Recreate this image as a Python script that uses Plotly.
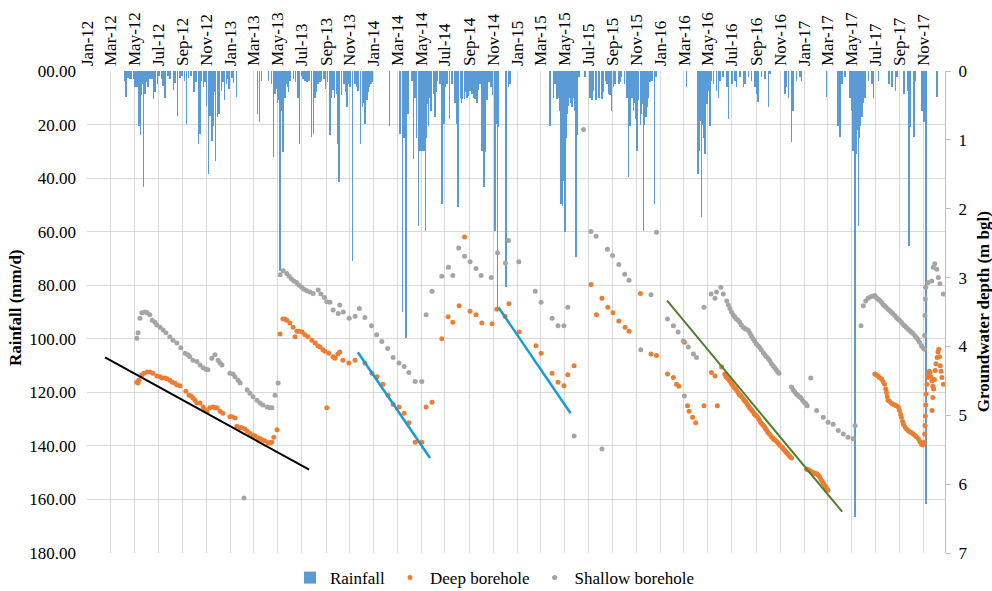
import pandas as pd
import plotly.graph_objects as go

START = pd.Timestamp("2012-01-01")

# ---- Rainfall (days since 2012-01-01, mm/d) ----
rain_day = [
    95, 100, 104, 110, 113, 118, 122, 127, 131, 133, 136, 139, 141, 144, 148, 150, 155, 158, 160, 165,
    169, 173, 180, 183, 190, 194, 199, 207, 211, 220, 224, 231, 237, 242, 248, 254, 258, 265, 273, 278,
    284, 288, 292, 297, 301, 305, 309, 313, 318, 320, 322, 325, 328, 332, 334, 336, 338, 343, 346, 350,
    356, 359, 362, 369, 373, 381,
    435, 439, 445, 462, 470, 475, 479, 483, 485, 487, 491, 492, 496, 497, 499, 502, 504, 509, 511, 513,
    517, 526, 531, 537, 541, 547, 550, 555, 560, 566, 572, 577, 581, 585, 589, 593, 598, 604, 608, 613,
    619, 623, 627, 630, 636, 640, 642, 649, 655, 659, 662, 667, 670, 677, 683, 688, 691, 697, 702, 705,
    708, 713, 716, 718, 723, 727,
    771, 798, 804, 808, 813, 818, 828, 832, 836, 840, 845, 849, 851, 853, 858, 860, 862, 864, 866, 870,
    874, 877, 883, 886, 889, 892, 900, 904, 909, 912, 917, 923, 930, 938, 943, 945, 951, 954, 957, 962,
    966, 968, 972, 976, 981, 986, 989, 994, 997, 1001, 1006, 1011, 1015, 1019, 1024, 1029, 1033, 1039,
    1043, 1046, 1049, 1068, 1074, 1078,
    1179, 1189, 1193, 1197, 1202, 1204, 1206, 1208, 1212, 1214, 1215, 1218, 1220, 1223, 1227, 1229,
    1231, 1233, 1236, 1240, 1242, 1246, 1248, 1253, 1269, 1282, 1287, 1291, 1297, 1304, 1312, 1316,
    1321, 1325, 1329, 1333, 1336, 1342, 1345, 1355, 1358, 1362, 1369, 1374, 1376, 1380, 1384, 1388,
    1392, 1396, 1399, 1401, 1405, 1410, 1412, 1414, 1418, 1420, 1422, 1424, 1427, 1431, 1435, 1440,
    1446, 1450,
    1528, 1557, 1560, 1562, 1566, 1568, 1570, 1572, 1574, 1579, 1583, 1587, 1591, 1596, 1604, 1609,
    1613, 1621, 1630, 1634, 1643, 1651, 1655, 1664, 1672, 1676, 1685, 1693, 1702, 1706, 1710, 1719,
    1727, 1736, 1740, 1778, 1782, 1787, 1795, 1799, 1808, 1816, 1821,
    1884, 1914, 1918, 1923, 1931, 1944, 1948, 1950, 1952, 1955, 1957, 1961, 1963, 1965, 1967, 1970,
    1974, 1977, 1982, 1991, 2000, 2004, 2017, 2043, 2051, 2060, 2064, 2081, 2090, 2094, 2098, 2107,
    2111, 2128, 2132, 2137, 2166,
]
rain_mm = [
    3.6, 9.8, 2.5, 3, 3, 3, 6, 6, 6, 20.4, 24, 9, 5, 43.2, 8.6, 4, 6, 2, 3, 3,
    10.5, 8, 5, 2, 3, 5.5, 10, 2, 3, 7, 4.3, 16.7, 2.5, 2, 3.6, 19.8, 2.5, 2, 8, 4,
    27.3, 23.5, 3.6, 6, 4, 13, 38.5, 16.7, 26, 10, 20.4, 8, 33.5, 17.3, 9, 16, 5, 7.3, 4, 11,
    5, 3, 6.7, 2.5, 4.3, 9.8,
    16, 19.2, 3.6, 3.6, 5, 32.2, 8.6, 6.7, 12, 11, 58.4, 74.6, 6, 15, 30.4, 9, 10, 5, 6, 8,
    3.6, 3, 4, 10, 27.3, 1.7, 3, 3.6, 4, 3.6, 24.8, 23.5, 10, 8, 5, 4, 3.6, 3, 6.7, 4,
    24, 10, 7, 10, 8.6, 27.3, 41.6, 9, 5, 8, 13.6, 5, 6, 70.9, 5, 6, 7.3, 27.3, 13.6, 12,
    19.8, 11, 8, 6, 5, 4,
    20.4, 23.5, 90, 25, 99.7, 16, 3.6, 32.9, 10, 25, 57.8, 30, 28, 29.8, 29.8, 30, 59.7, 25, 12.3, 20.4,
    10, 15, 8.6, 17.3, 8, 3.6, 5, 49.7, 19.8, 6, 5, 18, 5, 12, 19.8, 50.9, 10, 12, 10.5, 10.5,
    8, 10, 9.2, 7.3, 8.6, 10, 10.5, 12, 7, 5, 30, 43.5, 30.4, 11, 4, 6, 9, 59.7,
    19.8, 89, 21, 80.6, 6, 5,
    20.4, 10, 5, 10.5, 10, 15, 33.5, 49.7, 50.3, 30, 41, 60.3, 25, 16, 13, 10,
    8, 12, 13.6, 10, 15, 69.6, 24, 2.4, 2.4, 10, 11, 7.3, 11, 10, 10.5, 8,
    3.6, 5, 8.6, 9, 14.8, 6, 5, 5, 4, 2.4, 5, 6, 10, 39.7, 20.4, 10,
    15, 12, 18, 29.8, 11, 20, 16, 12.3, 59.7, 20, 15, 17, 13.6, 10, 4, 3.6,
    49.7, 2.4,
    6, 38.5, 30, 18.6, 54.7, 20, 16, 25, 31, 12.3, 7.3, 20.4, 3.6, 5, 7.3, 10,
    3.6, 2.4, 6, 18, 5, 3.6, 6, 2.4, 6, 5, 2.4, 3.6, 6, 8.6, 11.7, 2.4,
    3, 13.6, 1.2, 8.6, 6, 10, 26.6, 14.8, 3.6, 2.4, 3.6,
    9.8, 20.4, 24.8, 5, 2.4, 10, 14.8, 20, 29.8, 44.7, 166.7, 31, 22, 57.8, 25, 20.4,
    17.3, 12, 10, 3.6, 5, 10, 3.6, 5, 6, 7.3, 2.4, 8.6, 7.3, 65.3, 21, 24.8,
    3.6, 14.8, 19.2, 161.8, 9.8,
]

# ---- Deep borehole (days since 2012-01-01, groundwater depth m bgl) ----
deep_day = [
    127, 130, 132, 140, 145, 153, 160, 168, 178, 186, 191, 199, 204, 211, 217, 224, 229, 237, 252, 260,
    265, 270, 275, 280, 288, 296, 301, 306, 313, 321, 326, 331, 339, 346, 364, 369, 377, 382, 390, 395,
    402, 408, 415, 423, 428, 436, 441, 448, 453, 461, 466, 471, 476, 484,
    492, 499, 504, 509, 517, 525, 530, 535, 540, 548, 555, 563, 573, 581, 588, 594, 601, 606, 611, 616,
    627, 632, 639, 644, 652, 667, 683, 708, 726, 739, 754, 767, 780, 795, 808, 820, 836, 853, 864, 879,
    904, 920, 932, 948, 962, 976, 991, 1006, 1032, 1044, 1065, 1075, 1101, 1144, 1157, 1185, 1200, 1215,
    1225, 1241,
    1284, 1298, 1312, 1327, 1340, 1355, 1371, 1381, 1410, 1437, 1451,
    1479, 1494, 1502, 1508, 1522, 1530, 1534, 1543, 1551, 1572, 1591, 1600, 1606, 1617,
    1625, 1628, 1631, 1634, 1637, 1640, 1643, 1646, 1649, 1652, 1655, 1659, 1662, 1665, 1668, 1672,
    1675, 1678, 1681, 1685, 1688, 1691, 1694, 1697, 1700, 1703, 1706, 1710, 1713, 1716, 1719, 1722,
    1725, 1728, 1731, 1734, 1737, 1740, 1744, 1747, 1750, 1753, 1757, 1760, 1763, 1766, 1770, 1773,
    1776, 1779, 1782, 1785, 1788, 1791, 1795,
    1833, 1836, 1840, 1843, 1846, 1850, 1853, 1856, 1859, 1863, 1866, 1869, 1872, 1875, 1878, 1881,
    1884, 1888,
    2007, 2011, 2015, 2019, 2024, 2028, 2032, 2035, 2037, 2039, 2041, 2045, 2050, 2054, 2058, 2062,
    2067, 2070, 2073, 2075, 2078, 2080, 2084, 2088, 2092, 2096, 2100, 2105, 2109, 2113, 2118, 2122,
    2126, 2129, 2132, 2133, 2134, 2135, 2136, 2137, 2138, 2140, 2142, 2144, 2146, 2148, 2150, 2153,
    2155, 2157, 2159, 2161, 2163, 2166, 2168, 2170, 2172, 2174, 2176, 2178, 2182, 2155, 2153,
]
deep_depth = [
    4.52, 4.53, 4.49, 4.41, 4.39, 4.37, 4.37, 4.39, 4.43, 4.44, 4.46, 4.46, 4.47, 4.49, 4.52, 4.53, 4.56, 4.57, 4.65, 4.71,
    4.72, 4.75, 4.78, 4.82, 4.82, 4.88, 4.92, 4.95, 4.89, 4.88, 4.89, 4.89, 4.94, 4.97, 5.02, 5.02, 5.04, 5.16, 5.18, 5.18,
    5.20, 5.23, 5.26, 5.29, 5.30, 5.33, 5.34, 5.36, 5.37, 5.40, 5.40, 5.39, 5.32, 5.21,
    3.82, 3.60, 3.60, 3.62, 3.66, 3.72, 3.86, 3.78, 3.78, 3.79, 3.83, 3.86, 3.91, 3.95, 3.99, 4.01, 4.05, 4.07, 4.89, 4.10,
    4.15, 4.17, 4.11, 4.08, 4.20, 4.24, 4.20, 4.24, 4.39, 4.44, 4.55, 4.71, 4.84, 4.88, 4.97, 5.11, 5.39, 5.39, 4.88, 4.81,
    3.89, 3.57, 3.65, 3.41, 2.41, 3.49, 3.54, 3.66, 3.67, 3.46, 3.56, 3.38, 3.79, 3.99, 4.10, 4.39, 4.52, 4.57,
    4.41, 4.28,
    3.10, 3.54, 3.30, 3.43, 3.51, 3.63, 3.72, 3.78, 3.23, 4.11, 4.13,
    4.40, 4.45, 4.55, 4.58, 3.94, 4.86, 4.94, 5.03, 5.11, 4.86, 4.38, 4.43, 4.86, 4.30,
    4.40, 4.44, 4.46, 4.47, 4.50, 4.52, 4.55, 4.57, 4.60, 4.61, 4.64, 4.67, 4.70, 4.71, 4.73, 4.76,
    4.79, 4.80, 4.83, 4.86, 4.89, 4.91, 4.93, 4.95, 4.98, 5.00, 5.01, 5.04, 5.07, 5.10, 5.12, 5.14,
    5.16, 5.19, 5.21, 5.24, 5.26, 5.28, 5.31, 5.33, 5.35, 5.36, 5.38, 5.40, 5.42, 5.44, 5.46, 5.48,
    5.50, 5.52, 5.54, 5.56, 5.58, 5.60, 5.62,
    5.78, 5.79, 5.80, 5.81, 5.83, 5.83, 5.84, 5.85, 5.85, 5.87, 5.89, 5.92, 5.95, 5.98, 6.00, 6.03,
    6.06, 6.09,
    4.40, 4.41, 4.43, 4.45, 4.47, 4.51, 4.55, 4.62, 4.67, 4.73, 4.78, 4.80, 4.83, 4.84, 4.85, 4.86,
    4.88, 4.93, 4.99, 5.03, 5.09, 5.13, 5.17, 5.20, 5.22, 5.24, 5.25, 5.27, 5.29, 5.31, 5.34, 5.38,
    5.42, 5.43, 5.41, 5.39, 5.27, 5.15, 5.01, 4.85, 4.69, 4.55, 4.45, 4.42, 4.36, 4.38, 4.44, 4.50,
    4.58, 4.62, 4.48, 4.35, 4.25, 4.16, 4.08, 4.04, 4.15, 4.28, 4.36, 4.45, 4.55, 4.74, 4.93,
]

# ---- Shallow borehole (days since 2012-01-01, groundwater depth m bgl) ----
shallow_day = [
    127, 130, 135, 140, 148, 153, 160, 166, 173, 178, 186, 194, 201, 211, 219, 229, 239, 250, 257, 262,
    270, 280, 288, 296, 303, 308, 318, 326, 334, 339, 344, 364, 372, 377, 385, 390, 400, 408, 415, 423,
    433, 441, 448, 459, 466, 471, 479, 487,
    492, 500, 509, 515, 521, 527, 534, 540, 547, 553, 560, 568, 576, 589, 596, 605, 611, 619, 627, 640,
    644, 653, 668, 683, 694, 708, 725, 738, 751, 766, 780, 795, 808, 820, 836, 853, 864,
    879, 904, 921, 932, 947, 962, 976, 991, 1004, 1030, 1046, 1066, 1074, 1100, 1142, 1157, 1185, 1200,
    1215, 1225, 1241,
    1265, 1284, 1297, 1312, 1326, 1339, 1355, 1370, 1381, 1411, 1437, 1451,
    1479, 1494, 1506, 1519, 1522, 1532, 1545, 1553, 1572, 1590, 1600, 1604, 1615, 1621,
    1630, 1634, 1638, 1642, 1646, 1650, 1654, 1659, 1663, 1667, 1672, 1676, 1680, 1685, 1689, 1693,
    1697, 1701, 1705, 1710, 1714, 1718, 1723, 1727, 1731, 1736, 1740, 1744, 1748, 1752, 1756, 1760,
    1763, 1795, 1799, 1803, 1807, 1811, 1815, 1819, 1823, 1827, 1831, 1835, 1844, 1859, 1876, 1888,
    1901, 1914, 1927, 1939, 1952, 1957,
    1972, 1978, 1984, 1990, 1996, 2002, 2007, 2011, 2015, 2019, 2024, 2028, 2032, 2036, 2041, 2045,
    2049, 2053, 2058, 2062, 2066, 2070, 2075, 2079, 2083, 2087, 2092, 2096, 2100, 2104, 2109, 2113,
    2117, 2121, 2126, 2130, 2133, 2134, 2135, 2136, 2137, 2143, 2152, 2156, 2160, 2165, 2169, 2173,
    2182,
]
shallow_depth = [
    3.88, 3.80, 3.59, 3.51, 3.50, 3.51, 3.54, 3.62, 3.65, 3.69, 3.72, 3.76, 3.80, 3.86, 3.91, 3.95, 4.02, 4.10, 4.12, 4.15,
    4.20, 4.22, 4.27, 4.31, 4.33, 4.34, 4.17, 4.12, 4.20, 4.24, 4.27, 4.39, 4.40, 4.44, 4.49, 4.53, 6.20, 4.63, 4.68, 4.73,
    4.78, 4.82, 4.85, 4.88, 4.89, 4.89, 4.71, 4.53,
    2.96, 2.90, 2.94, 2.98, 3.02, 3.05, 3.07, 3.11, 3.14, 3.17, 3.19, 3.21, 3.23, 3.18, 3.24, 3.29, 3.35, 3.36, 3.47, 3.52,
    3.40, 3.50, 3.59, 3.56, 3.45, 3.58, 3.70, 3.83, 3.93, 4.03, 4.16, 4.24, 4.29, 4.38, 4.51, 4.51, 3.54,
    3.20, 2.98, 2.85, 2.97, 2.57, 2.69, 2.77, 2.87, 2.97, 3.00, 2.64, 2.79, 2.46, 2.77, 3.20, 3.36, 3.59, 3.70,
    3.70, 3.43, 5.30,
    0.85, 2.33, 2.40, 5.49, 2.59, 2.68, 2.81, 2.95, 3.04, 4.05, 3.25, 2.34,
    3.60, 3.70, 3.79, 3.92, 4.72, 4.01, 4.11, 4.16, 3.43, 3.24, 3.30, 3.21, 3.14, 3.24,
    3.34, 3.40, 3.45, 3.50, 3.54, 3.57, 3.60, 3.62, 3.65, 3.69, 3.72, 3.74, 3.75, 3.77, 3.81, 3.85,
    3.89, 3.92, 3.96, 3.99, 4.02, 4.05, 4.09, 4.12, 4.15, 4.18, 4.21, 4.25, 4.28, 4.31, 4.34, 4.37,
    4.39, 4.59, 4.63, 4.66, 4.69, 4.71, 4.73, 4.75, 4.78, 4.81, 4.83, 4.86, 4.46, 4.93, 5.03, 5.10,
    5.13, 5.22, 5.27, 5.32, 5.34, 5.15,
    3.70, 3.41, 3.34, 3.30, 3.28, 3.27, 3.26, 3.29, 3.31, 3.33, 3.36, 3.39, 3.41, 3.43, 3.46, 3.48,
    3.50, 3.52, 3.55, 3.58, 3.60, 3.62, 3.65, 3.68, 3.70, 3.72, 3.75, 3.77, 3.79, 3.81, 3.84, 3.87,
    3.90, 3.94, 3.99, 4.02, 4.04, 3.84, 3.55, 3.31, 3.14, 3.07, 3.05, 2.85, 2.80, 2.88, 3.00, 3.09,
    3.24,
]

# ---- Trend lines (start/end day, depth) ----
trend_black_day = [46, 566]
trend_black_depth = [4.16, 5.79]
trend_blue1_day = [690, 874]
trend_blue1_depth = [4.085, 5.62]
trend_blue2_day = [1048, 1232]
trend_blue2_depth = [3.43, 4.97]
trend_green_day = [1478, 1924]
trend_green_depth = [3.336, 6.40]


def to_date(days):
    return START + pd.to_timedelta(pd.Series(days, dtype=float), unit="D")


FONT = "Liberation Serif, Times New Roman, serif"
DAY_MS = 86400000

fig = go.Figure()
fig.add_trace(go.Bar(
    x=to_date(rain_day), y=rain_mm, name="Rainfall",
    marker=dict(color="#5B9BD5", line=dict(width=0)),
    width=[1.3 * DAY_MS] * len(rain_day), yaxis="y",
))
fig.add_trace(go.Scatter(
    x=to_date(deep_day), y=deep_depth, name="Deep borehole", mode="markers",
    marker=dict(color="#ED7D31", size=5), yaxis="y2",
))
fig.add_trace(go.Scatter(
    x=to_date(shallow_day), y=shallow_depth, name="Shallow borehole", mode="markers",
    marker=dict(color="#A5A5A5", size=5), yaxis="y2",
))
for d, v, c, w in [
    (trend_black_day, trend_black_depth, "#000000", 2),
    (trend_blue1_day, trend_blue1_depth, "#1A9AD6", 2.5),
    (trend_blue2_day, trend_blue2_depth, "#1A9AD6", 2.5),
    (trend_green_day, trend_green_depth, "#4E7F2C", 2),
]:
    fig.add_trace(go.Scatter(
        x=to_date(d), y=v, mode="lines", line=dict(color=c, width=w),
        showlegend=False, yaxis="y2", hoverinfo="skip",
    ))

GRID = "#D9D9D9"
fig.update_layout(
    width=992, height=591,
    margin=dict(l=87, r=47, t=71, b=38, autoexpand=False),
    paper_bgcolor="white", plot_bgcolor="white",
    font=dict(family=FONT, size=17, color="#000000"),
    bargap=0,
    xaxis=dict(
        type="date", side="top", automargin=False,
        range=[START, START + pd.Timedelta(days=2186)],
        tick0="2012-01-01", dtick="M2", tickformat="%b-%y", tickangle=-90,
        showgrid=True, gridcolor=GRID, gridwidth=1, zeroline=False, showline=False,
        ticks="", ticklabelstandoff=4,
    ),
    yaxis=dict(
        range=[180, 0], tick0=0, dtick=20, tickformat="05.2f", automargin=False,
        showgrid=True, gridcolor=GRID, gridwidth=1, zeroline=False, showline=False,
        ticks="", ticklabelstandoff=10,
    ),
    yaxis2=dict(
        range=[7, 0], tick0=0, dtick=1, overlaying="y", side="right", automargin=False,
        showgrid=False, zeroline=False, showline=True, linecolor="#BFBFBF", linewidth=1,
        ticks="outside", ticklen=5, tickcolor="#BFBFBF", ticklabelstandoff=4,
    ),
    legend=dict(
        orientation="h", x=0.4755, xanchor="center", y=-0.052, yanchor="middle",
        font=dict(family=FONT, size=17), itemwidth=30, tracegroupgap=0,
    ),
    annotations=[
        dict(text="<b>Rainfall (mm/d)</b>", xref="paper", yref="paper",
             x=-0.084, y=0.51, textangle=-90, showarrow=False,
             font=dict(family=FONT, size=17), xanchor="center", yanchor="middle"),
        dict(text="<b>Groundwater depth (m bgl)</b>", xref="paper", yref="paper",
             x=1.0445, y=0.5, textangle=-90, showarrow=False,
             font=dict(family=FONT, size=17), xanchor="center", yanchor="middle"),
    ],
)

# Remove the default 8px page margin so the 992x591 figure fills the window exactly.
fig.write_html(
    "out.html",
    config={"displayModeBar": False},
    post_script="document.body.style.margin='0';",
)
